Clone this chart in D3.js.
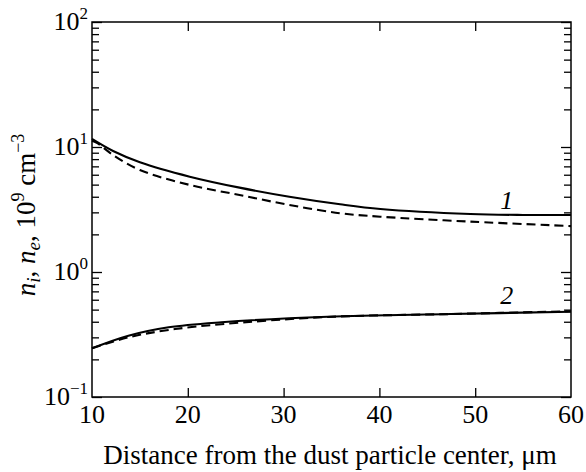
<!DOCTYPE html>
<html><head><meta charset="utf-8">
<script src="https://cdn.jsdelivr.net/npm/d3@7"></script>
</head><body style="margin:0"><svg id="c" width="586" height="472" font-family="Liberation Serif"></svg>
<script>
// Data
const xTicks = [10, 20, 30, 40, 50, 60];
const yMajor = [0.1, 1, 10, 100];
const yExp = ["\u22121", "0", "1", "2"];
const c1SolidX = [10, 12.2, 15, 20.2, 25.4, 30.6, 35.9, 40.1, 49.5, 55, 60];
const c1SolidY = [11.6, 9.29, 7.55, 5.79, 4.73, 4.0, 3.48, 3.19, 2.91, 2.86, 2.86];
const c1DashX = [10, 10.5, 12.2, 15, 20.2, 25.4, 30.6, 35.9, 40.1, 49.5, 60];
const c1DashY = [11.2, 10.8, 8.63, 6.55, 4.97, 4.13, 3.44, 2.95, 2.77, 2.53, 2.33];
const c2SolidX = [10, 13.8, 18, 23.5, 34.6, 47.4, 60];
const c2SolidY = [0.245, 0.309, 0.361, 0.396, 0.439, 0.461, 0.481];
const c2DashX = [10, 13.8, 18, 23.5, 34.6, 47.4, 60];
const c2DashY = [0.245, 0.300, 0.344, 0.382, 0.437, 0.461, 0.485];
const curveLabels = ["1", "2"];
const labelPos = [[53.3, 3.7], [53.3, 0.643]];

const FONT = '"Liberation Serif"';
const svg = d3.select("#c");
const L = 92, R = 571, T = 22, B = 397;
const x = d3.scaleLinear().domain([10, 60]).range([L, R]);
const y = d3.scaleLog().domain([0.1, 100]).range([B, T]);

const minor = y.ticks().filter(v => !yMajor.some(m => Math.abs(m - v) < 1e-9));
const txt = () => svg.append("text").style("font-family", FONT).attr("fill", "#000");

function tickStyle(sel){ sel.attr("font-family", null).attr("font-size", null); sel.selectAll("path").remove(); sel.selectAll("line").attr("stroke","#000").attr("stroke-width",1.3); sel.selectAll("text").remove(); }

const ax = svg.append("g");
// left axis ticks (inward)
ax.append("g").attr("transform",`translate(${L},0)`).call(d3.axisRight(y).tickValues(yMajor).tickSize(10)).call(tickStyle);
ax.append("g").attr("transform",`translate(${L},0)`).call(d3.axisRight(y).tickValues(minor).tickSize(7)).call(tickStyle);
// right axis ticks (inward)
ax.append("g").attr("transform",`translate(${R},0)`).call(d3.axisLeft(y).tickValues(yMajor).tickSize(10)).call(tickStyle);
ax.append("g").attr("transform",`translate(${R},0)`).call(d3.axisLeft(y).tickValues(minor).tickSize(7)).call(tickStyle);
// bottom / top ticks
const inner = xTicks.slice(1, -1);
ax.append("g").attr("transform",`translate(0,${B})`).call(d3.axisTop(x).tickValues(inner).tickSize(9)).call(tickStyle);
ax.append("g").attr("transform",`translate(0,${T})`).call(d3.axisBottom(x).tickValues(inner).tickSize(9)).call(tickStyle);

// frame
svg.append("rect").attr("x",L).attr("y",T).attr("width",R-L).attr("height",B-T)
 .attr("fill","none").attr("stroke","#000").attr("stroke-width",1.5);

// x tick labels
xTicks.forEach(d => {
  txt().attr("x", x(d)).attr("y", B + 26).attr("text-anchor","middle").attr("font-size", 26).text(d);
});

// y tick labels
yMajor.forEach((v, i) => {
  const t = txt().attr("x", L - 4).attr("y", y(v) + 8).attr("text-anchor","end").attr("font-size",26);
  t.append("tspan").text("10");
  t.append("tspan").attr("dy",-11).attr("font-size",17).text(yExp[i]);
});

// axis titles
txt().attr("x", 330).attr("y", 464).attr("text-anchor","middle").attr("font-size",27)
 .text("Distance from the dust particle center, \u03bcm");

const yt = txt().attr("transform","translate(35,215) rotate(-90)").attr("text-anchor","middle").attr("font-size",27);
yt.append("tspan").attr("font-style","italic").text("n");
yt.append("tspan").attr("font-style","italic").attr("font-size",19).attr("dy",5).text("i");
yt.append("tspan").attr("dy",-5).text(", ");
yt.append("tspan").attr("font-style","italic").text("n");
yt.append("tspan").attr("font-style","italic").attr("font-size",19).attr("dy",5).text("e");
yt.append("tspan").attr("dy",-5).text(", 10");
yt.append("tspan").attr("font-size",18).attr("dy",-11).text("9");
yt.append("tspan").attr("dy",11).text(" cm");
yt.append("tspan").attr("font-size",18).attr("dy",-11).text("\u22123");

// curves
const line = d3.line().x(d => x(d[0])).y(d => y(d[1])).curve(d3.curveCatmullRom.alpha(0.5));
const zip = (a, b) => a.map((v, i) => [v, b[i]]);
const series = [
  [zip(c1SolidX, c1SolidY), null],
  [zip(c1DashX, c1DashY), "9,5"],
  [zip(c2SolidX, c2SolidY), null],
  [zip(c2DashX, c2DashY), "9,5"]
];
series.forEach(([d, dash]) => {
  svg.append("path").datum(d).attr("d", line).attr("fill","none").attr("stroke","#000")
   .attr("stroke-width", 2.1).attr("stroke-dasharray", dash);
});

// curve labels
curveLabels.forEach((s, i) => {
  txt().attr("x", x(labelPos[i][0])).attr("y", y(labelPos[i][1]) + 8)
   .attr("text-anchor","middle").attr("font-style","italic").attr("font-size",26).text(s);
});
</script></body></html>
